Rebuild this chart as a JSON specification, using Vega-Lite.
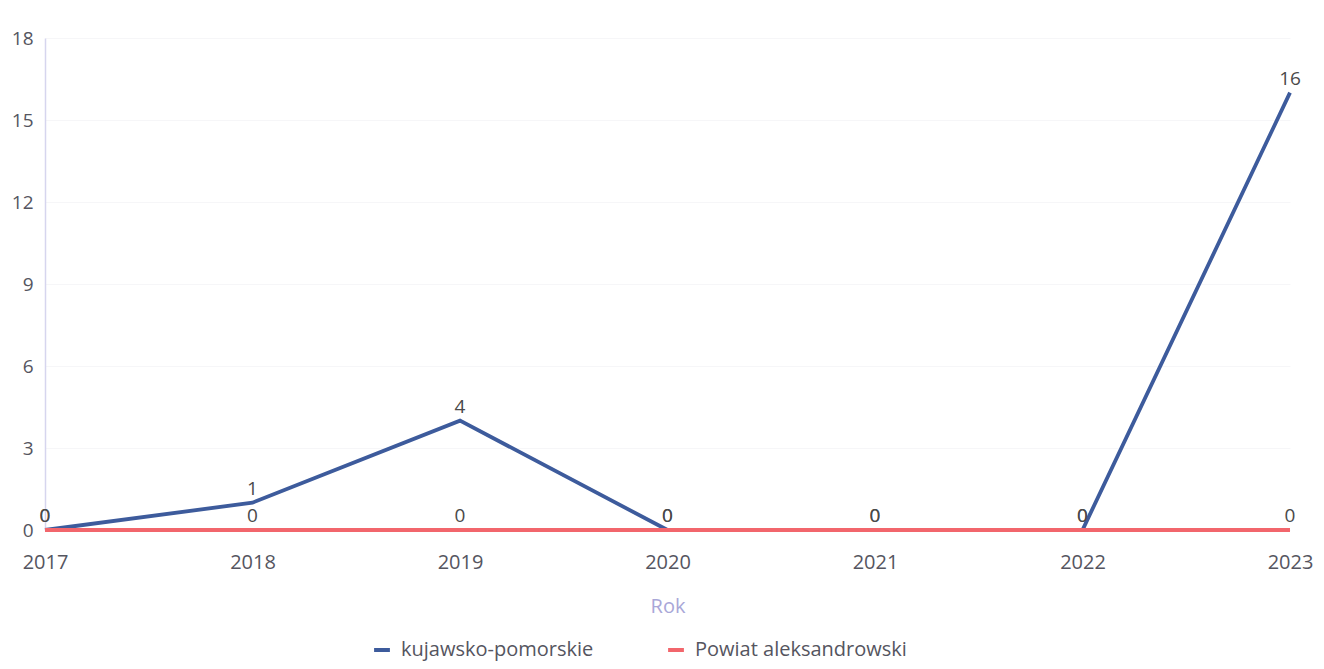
{
  "$schema": "https://vega.github.io/schema/vega-lite/v6.json",
  "autosize": {"type": "none"},
  "width": 1245,
  "height": 492,
  "padding": {"left": 45, "top": 38, "right": 34, "bottom": 139},
  "background": "#ffffff",
  "config": {
    "font": "Open Sans",
    "view": {"stroke": null}
  },
  "data": {
    "values": [
      {"Rok": "2017", "seria": "kujawsko-pomorskie", "wartosc": 0},
      {"Rok": "2018", "seria": "kujawsko-pomorskie", "wartosc": 1},
      {"Rok": "2019", "seria": "kujawsko-pomorskie", "wartosc": 4},
      {"Rok": "2020", "seria": "kujawsko-pomorskie", "wartosc": 0},
      {"Rok": "2021", "seria": "kujawsko-pomorskie", "wartosc": 0},
      {"Rok": "2022", "seria": "kujawsko-pomorskie", "wartosc": 0},
      {"Rok": "2023", "seria": "kujawsko-pomorskie", "wartosc": 16},
      {"Rok": "2017", "seria": "Powiat aleksandrowski", "wartosc": 0},
      {"Rok": "2018", "seria": "Powiat aleksandrowski", "wartosc": 0},
      {"Rok": "2019", "seria": "Powiat aleksandrowski", "wartosc": 0},
      {"Rok": "2020", "seria": "Powiat aleksandrowski", "wartosc": 0},
      {"Rok": "2021", "seria": "Powiat aleksandrowski", "wartosc": 0},
      {"Rok": "2022", "seria": "Powiat aleksandrowski", "wartosc": 0},
      {"Rok": "2023", "seria": "Powiat aleksandrowski", "wartosc": 0}
    ]
  },
  "encoding": {
    "x": {
      "field": "Rok",
      "type": "ordinal",
      "scale": {"type": "point", "padding": 0},
      "axis": {
        "title": "Rok",
        "titleColor": "#a9a7d8",
        "titleFontSize": 20,
        "titleFontWeight": "normal",
        "titlePadding": 24,
        "labelAngle": 0,
        "labelFontSize": 20,
        "labelColor": "#555560",
        "labelPadding": 22,
        "ticks": false,
        "domain": false,
        "grid": false
      }
    },
    "y": {
      "field": "wartosc",
      "type": "quantitative",
      "scale": {"domain": [0, 18]},
      "axis": {
        "title": null,
        "values": [0, 3, 6, 9, 12, 15, 18],
        "labelFontSize": 19,
        "labelColor": "#555560",
        "labelPadding": 12,
        "ticks": false,
        "domain": true,
        "domainColor": "#d6d5ee",
        "domainWidth": 1.5,
        "grid": true,
        "gridColor": "#f6f6f8",
        "gridWidth": 1
      }
    }
  },
  "layer": [
    {
      "mark": {"type": "line", "strokeWidth": 3.8},
      "encoding": {
        "color": {
          "field": "seria",
          "type": "nominal",
          "scale": {
            "domain": ["kujawsko-pomorskie", "Powiat aleksandrowski"],
            "range": ["#3d5b9c", "#f2666c"]
          },
          "legend": {
            "title": null,
            "orient": "none",
            "direction": "horizontal",
            "legendX": 327,
            "legendY": 602,
            "symbolType": "stroke",
            "symbolStrokeWidth": 4,
            "symbolSize": 250,
            "labelFontSize": 20,
            "labelLimit": 0,
            "labelColor": "#555560",
            "columnPadding": 66,
            "labelOffset": 9
          }
        },
        "order": {"field": "seria", "sort": "ascending"}
      }
    },
    {
      "mark": {"type": "text", "dy": -14, "fontSize": 19, "color": "#4a4a4a"},
      "encoding": {
        "text": {"field": "wartosc", "type": "quantitative"}
      }
    }
  ]
}
